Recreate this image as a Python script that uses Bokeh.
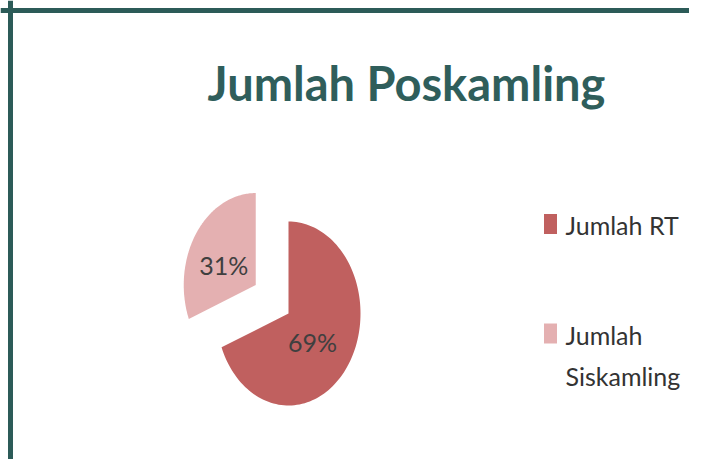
import textwrap
import numpy as np
from bokeh.plotting import figure
from bokeh.models import ColumnDataSource, Range1d, Span
from bokeh.core.properties import value
from bokeh.embed import file_html
from bokeh.resources import INLINE

# ---- data ----
title_text = "Jumlah Poskamling"
categories = ["Jumlah RT", "Jumlah Siskamling"]
values = [69, 31]
colors = ["#C0605F", "#E4B0B1"]
explode = [0.0, 0.55]

# ---- layout (screen px, y down) ----
W, H = 689, 459
cx, cy = 288, 313      # pie centre
rx, ry = 72, 92        # elliptical pie radii (scan is stretched)
label_frac = 0.47
label_nudge = (-4, 4)
legend_sq_x = 550
legend_row_y = [223.5, 333]
legend_text_x = 565

p = figure(width=W, height=H, output_backend="svg", toolbar_location=None,
           x_range=Range1d(0, W), y_range=Range1d(H, 0),
           min_border=0, outline_line_color=None)
p.axis.visible = False
p.grid.visible = False
p.background_fill_color = "white"
p.border_fill_color = "white"

total = float(sum(values))
xs, ys, lx, ly, txt = [], [], [], [], []
cum = 0.0
for v, e in zip(values, explode):
    a0 = 2 * np.pi * cum / total
    a1 = 2 * np.pi * (cum + v) / total
    cum += v
    mid = (a0 + a1) / 2
    ox = e * rx * np.sin(mid)
    oy = -e * ry * np.cos(mid)
    t = np.linspace(a0, a1, 120)
    px = np.concatenate([[cx + ox], cx + ox + rx * np.sin(t)])
    py = np.concatenate([[cy + oy], cy + oy - ry * np.cos(t)])
    xs.append(px.tolist())
    ys.append(py.tolist())
    lx.append(cx + ox + label_frac * rx * np.sin(mid) + label_nudge[0])
    ly.append(cy + oy - label_frac * ry * np.cos(mid) + label_nudge[1])
    txt.append(f"{round(100 * v / total)}%")

src = ColumnDataSource(dict(xs=xs, ys=ys, color=colors, name=categories))
p.patches("xs", "ys", source=src, fill_color="color", line_color=None)

lsrc = ColumnDataSource(dict(x=lx, y=ly, text=txt))
p.text("x", "y", text="text", source=lsrc, text_font=value("Lato"),
       text_font_size="25px", text_color="#3f3f3f",
       text_align="center", text_baseline="middle")

# title
tsrc = ColumnDataSource(dict(x=[406], y=[82], text=[title_text]))
p.text("x", "y", text="text", source=tsrc, text_font=value("Lato"),
       text_font_style="bold", text_font_size="47px",
       text_color="#2F5E5B", text_align="center", text_baseline="middle")

# frame border (top and left visible in the scan)
p.add_layout(Span(location=10, dimension="width", line_color="#2C5B58", line_width=5))
p.add_layout(Span(location=10, dimension="height", line_color="#2C5B58", line_width=5))

# legend (drawn manually so the wrapped label keeps its marker on line 1)
leg = ColumnDataSource(dict(
    x=[legend_sq_x] * len(categories),
    y=legend_row_y,
    tx=[legend_text_x] * len(categories),
    ty=[yy - 14 for yy in legend_row_y],
    label=[textwrap.fill(c, 12) for c in categories],
    color=colors,
))
p.rect("x", "y", width=13, height=20, source=leg, fill_color="color", line_color=None)
p.text("tx", "ty", text="label", source=leg, text_font=value("Lato"),
       text_font_size="25px", text_color="#333333", text_align="left",
       text_baseline="top", text_line_height=1.37)

open("out.html", "w").write(file_html(p, INLINE))
